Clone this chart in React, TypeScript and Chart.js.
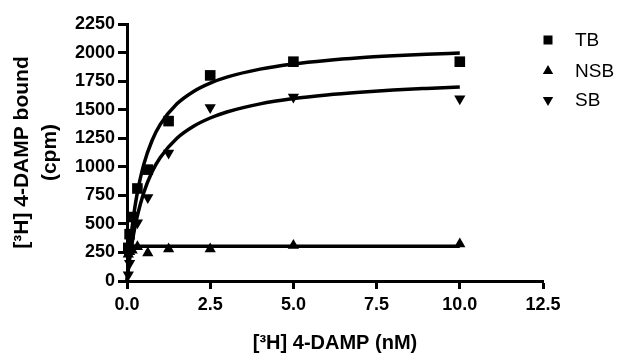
import React, { useEffect, useRef } from "react";
import { Chart, registerables } from "chart.js";

Chart.register(...registerables);

// Measured points
const xConc = [0.039, 0.078, 0.156, 0.3125, 0.625, 1.25, 2.5, 5, 10];
const tbValues = [290, 410, 560, 810, 975, 1400, 1800, 1920, 1920];
const nsbValues = [235, 255, 270, 300, 245, 280, 280, 310, 325];
const sbValues = [55, 155, 290, 510, 730, 1120, 1520, 1610, 1595];

// Fitted curves
const fitX = [0, 0.05, 0.1, 0.2, 0.3, 0.5, 0.75, 1, 1.5, 2, 2.5, 3, 4, 5, 6, 7, 8, 9, 10];
const tbFit = [0, 180, 332, 573, 756, 1017, 1228, 1371, 1551, 1660, 1733, 1785, 1855, 1900, 1931, 1954, 1971, 1985, 1996];
const sbFit = [0, 125, 234, 414, 557, 771, 954, 1082, 1250, 1355, 1427, 1480, 1551, 1597, 1629, 1653, 1672, 1686, 1698];
const nsbFitX = [0, 10];
const nsbFit = [305, 305];

const legendLabels = ["TB", "NSB", "SB"];
const xTitle = "[³H] 4-DAMP (nM)";
const yTitle = ["[³H] 4-DAMP bound", "(cpm)"];

const FONT = "'Liberation Sans', Arial, sans-serif";

const toXY = (xs: number[], ys: number[]) => xs.map((x, i) => ({ x, y: ys[i] }));

const legendPlugin = {
  id: "customLegend",
  afterDraw(chart: any) {
    const { ctx, chartArea } = chart;
    const mx = chartArea.right + 5;
    const tx = chartArea.right + 32;
    const ys = [chartArea.top + 16, chartArea.top + 47, chartArea.top + 76];
    ctx.save();
    ctx.fillStyle = "#000";
    ctx.fillRect(mx - 4.5, ys[0] - 4.5, 9, 9);
    const r = 6;
    const s = r * Math.sin((2 * Math.PI) / 3);
    ctx.beginPath();
    ctx.moveTo(mx, ys[1] - r);
    ctx.lineTo(mx + s, ys[1] + r / 2);
    ctx.lineTo(mx - s, ys[1] + r / 2);
    ctx.closePath();
    ctx.fill();
    ctx.beginPath();
    ctx.moveTo(mx, ys[2] + r);
    ctx.lineTo(mx + s, ys[2] - r / 2);
    ctx.lineTo(mx - s, ys[2] - r / 2);
    ctx.closePath();
    ctx.fill();
    ctx.font = `19px ${FONT}`;
    ctx.textBaseline = "middle";
    ctx.textAlign = "left";
    legendLabels.forEach((l, i) => ctx.fillText(l, tx, ys[i] + 1));
    ctx.restore();
  },
};

export default function App() {
  const ref = useRef<HTMLCanvasElement>(null);
  useEffect(() => {
    document.body.style.margin = "0";
    const canvas = ref.current!;
    const lineDs = (data: any[]) => ({
      type: "line" as const,
      data,
      showLine: true,
      borderColor: "#000",
      borderWidth: 3.5,
      pointRadius: 0,
      fill: false,
      cubicInterpolationMode: "monotone" as const,
      clip: false as any,
    });
    const chart = new Chart(canvas, {
      type: "scatter",
      data: {
        datasets: [
          lineDs(toXY(fitX, tbFit)),
          lineDs(toXY(fitX, sbFit)),
          lineDs(toXY(nsbFitX, nsbFit)),
          {
            label: "TB",
            data: toXY(xConc, tbValues),
            pointStyle: "rect",
            pointRadius: 7.5,
            backgroundColor: "#000",
            borderColor: "#000",
            borderWidth: 0,
            clip: false as any,
          },
          {
            label: "NSB",
            data: toXY(xConc, nsbValues),
            pointStyle: "triangle",
            pointRadius: 6.5,
            backgroundColor: "#000",
            borderColor: "#000",
            borderWidth: 0,
            clip: false as any,
          },
          {
            label: "SB",
            data: toXY(xConc, sbValues),
            pointStyle: "triangle",
            rotation: 180,
            pointRadius: 6.5,
            backgroundColor: "#000",
            borderColor: "#000",
            borderWidth: 0,
            clip: false as any,
          },
        ] as any,
      },
      options: {
        responsive: false,
        animation: false,
        devicePixelRatio: 1,
        layout: { padding: { top: 24, right: 88, left: 0, bottom: 0 } },
        plugins: { legend: { display: false }, tooltip: { enabled: false } },
        scales: {
          x: {
            type: "linear",
            min: 0,
            max: 12.5,
            afterFit: (s: any) => {
              s.height = 79;
            },
            ticks: {
              stepSize: 2.5,
              color: "#000",
              padding: 5,
              font: { family: FONT, size: 18, weight: "bold" },
              callback: (v: any) => Number(v).toFixed(1),
            },
            grid: {
              drawOnChartArea: false,
              drawTicks: true,
              tickLength: 8,
              tickWidth: 3,
              color: "#000",
            },
            border: { display: true, width: 3, color: "#000" },
            title: {
              display: true,
              text: xTitle,
              color: "#000",
              font: { family: FONT, size: 20, weight: "bold" },
              padding: { top: 0, bottom: 5 },
            },
          },
          y: {
            type: "linear",
            min: 0,
            max: 2250,
            afterFit: (s: any) => {
              s.width = 127;
            },
            ticks: {
              stepSize: 250,
              color: "#000",
              padding: 3,
              font: { family: FONT, size: 18, weight: "bold" },
              callback: (v: any) => String(v),
            },
            grid: {
              drawOnChartArea: false,
              drawTicks: true,
              tickLength: 9,
              tickWidth: 3,
              color: "#000",
            },
            border: { display: true, width: 3, color: "#000" },
            title: {
              display: true,
              text: yTitle,
              color: "#000",
              font: { family: FONT, size: 21, weight: "bold", lineHeight: 1.35 },
              padding: { top: 8, bottom: 0 },
            },
          },
        },
      } as any,
      plugins: [legendPlugin],
    });
    return () => chart.destroy();
  }, []);
  return (
    <div style={{ width: 631, height: 360, background: "#fff" }}>
      <canvas ref={ref} width={631} height={360} />
    </div>
  );
}
